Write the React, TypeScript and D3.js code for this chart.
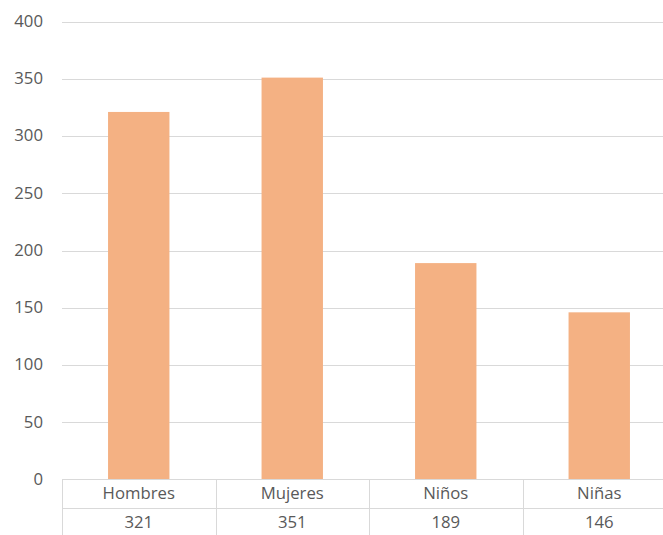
import React from "react";
import * as d3 from "d3";

const categories = ["Hombres", "Mujeres", "Niños", "Niñas"];
const values = [321, 351, 189, 146];
const yTicks = [0, 50, 100, 150, 200, 250, 300, 350, 400];

const W = 663;
const H = 535;
const left = 62;
const right = 676;
const top = 21.5;
const zeroY = 479.5;
const row1 = 508;
const bottom = 535;

export default function App() {
  const x = d3.scaleBand<string>().domain(categories).range([left, right]).paddingInner(0).paddingOuter(0);
  const y = d3.scaleLinear().domain([0, 400]).range([zeroY, top]);
  const bw = x.bandwidth() * 0.4;
  const font = "'Open Sans', sans-serif";
  const fs = 15.5;
  const textColor = "#595959";
  const gridColor = "#D9D9D9";
  const sx = 1.08;
  return (
    <svg width={W} height={H} style={{ position: "absolute", left: 0, top: 0, background: "#fff" }}>
      {yTicks.map((t) => (
        <g key={t}>
          {t > 0 && (
            <line x1={left} x2={right} y1={Math.round(y(t)) + 0.5} y2={Math.round(y(t)) + 0.5} stroke={gridColor} strokeWidth={1} />
          )}
          <text transform={`translate(43,${y(t)}) scale(${sx},1)`} dy="0.35em" textAnchor="end" fontFamily={font} fontSize={fs} fill={textColor}>
            {t}
          </text>
        </g>
      ))}
      {categories.map((c, i) => (
        <rect key={c} x={(x(c) as number) + (x.bandwidth() - bw) / 2} y={y(values[i])} width={bw} height={zeroY - y(values[i])} fill="#F4B183" />
      ))}
      <line x1={left} x2={right} y1={zeroY} y2={zeroY} stroke={gridColor} strokeWidth={1} />
      <line x1={left} x2={right} y1={row1 + 0.5} y2={row1 + 0.5} stroke={gridColor} strokeWidth={1} />
      {categories.map((c) => (
        <line key={c} x1={Math.round(x(c) as number) + 0.5} x2={Math.round(x(c) as number) + 0.5} y1={zeroY} y2={bottom} stroke={gridColor} strokeWidth={1} />
      ))}
      {categories.map((c, i) => (
        <g key={"t" + c}>
          <text transform={`translate(${(x(c) as number) + x.bandwidth() / 2},499) scale(${sx},1)`} textAnchor="middle" fontFamily={font} fontSize={fs} fill={textColor}>
            {c}
          </text>
          <text transform={`translate(${(x(c) as number) + x.bandwidth() / 2},528) scale(${sx},1)`} textAnchor="middle" fontFamily={font} fontSize={fs} fill={textColor}>
            {values[i]}
          </text>
        </g>
      ))}
    </svg>
  );
}
